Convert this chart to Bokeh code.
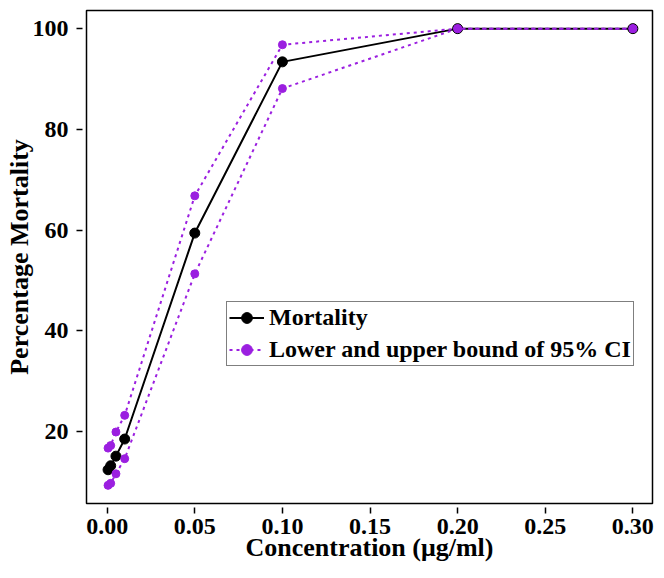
from bokeh.plotting import figure
from bokeh.models import Range1d, FixedTicker, Legend, LegendItem
from bokeh.embed import file_html
from bokeh.resources import INLINE

# data
conc = [0.0005, 0.002, 0.005, 0.01, 0.05, 0.10, 0.20, 0.30]
mortality = [12.4, 13.2, 15.1, 18.5, 59.4, 93.4, 100.0, 100.0]
ci_upper = [16.7, 17.2, 19.9, 23.2, 66.8, 96.8, 100.0, 100.0]
ci_lower = [9.3, 9.7, 11.6, 14.6, 51.3, 88.1, 100.0, 100.0]
x_ticks = [0.0, 0.05, 0.10, 0.15, 0.20, 0.25, 0.30]
y_ticks = [20, 40, 60, 80, 100]

FONT = "Liberation Serif"
PURPLE = "#9b1fe0"

p = figure(width=656, height=570, output_backend="svg", toolbar_location=None,
           x_range=Range1d(-0.0118, 0.3112), y_range=Range1d(5.7, 103.6),
           min_border_left=86, min_border_right=4, min_border_top=10, min_border_bottom=67)

p.xgrid.visible = False
p.ygrid.visible = False
p.outline_line_color = "black"
p.outline_line_width = 1.5

for ax in (p.xaxis[0], p.yaxis[0]):
    ax.axis_line_color = None
    ax.major_tick_in = -4
    ax.major_tick_out = 10
    ax.major_tick_line_color = "black"
    ax.major_tick_line_width = 1.5
    ax.minor_tick_line_color = None
    ax.major_label_text_font = FONT
    ax.major_label_text_font_style = "bold"
    ax.major_label_text_font_size = "24px"
    ax.major_label_text_color = "black"
    ax.axis_label_text_font = FONT
    ax.axis_label_text_font_style = "bold"
    ax.axis_label_text_font_size = "26px"
    ax.axis_label_text_color = "black"

p.xaxis[0].ticker = FixedTicker(ticks=x_ticks)
p.yaxis[0].ticker = FixedTicker(ticks=y_ticks)
p.xaxis[0].major_label_overrides = {t: f"{t:.2f}" for t in x_ticks}
p.xaxis[0].axis_label = "Concentration (\u03bcg/ml)"
p.yaxis[0].axis_label = "Percentage Mortality"
p.xaxis[0].major_label_standoff = 5
p.yaxis[0].major_label_standoff = 8
p.xaxis[0].axis_label_standoff = -4
p.yaxis[0].axis_label_standoff = -4

# mortality first, confidence bounds drawn over it
lm = p.line(conc, mortality, line_color="black", line_width=2)
sm = p.scatter(conc, mortality, size=10, fill_color="black", line_color="black")

lu = p.line(conc, ci_upper, line_color=PURPLE, line_width=2, line_dash="3 4")
su = p.scatter(conc, ci_upper, size=8, fill_color=PURPLE, line_color=PURPLE)
p.line(conc, ci_lower, line_color=PURPLE, line_width=2, line_dash="3 4")
p.scatter(conc, ci_lower, size=8, fill_color=PURPLE, line_color=PURPLE)

legend = Legend(items=[
    LegendItem(label="Mortality", renderers=[lm, sm]),
    LegendItem(label="Lower and upper bound of 95% CI", renderers=[lu, su]),
], location=(140, 137))
legend.label_text_font = FONT
legend.label_text_font_style = "bold"
legend.label_text_font_size = "24px"
legend.label_text_color = "black"
legend.border_line_color = "black"
legend.border_line_width = 1.5
legend.background_fill_alpha = 1
legend.glyph_width = 35
legend.glyph_height = 27
legend.label_height = 27
legend.spacing = 5
legend.padding = 2
legend.margin = 0
legend.label_standoff = 5
p.add_layout(legend, "center")

open("out.html", "w").write(file_html(p, INLINE))
